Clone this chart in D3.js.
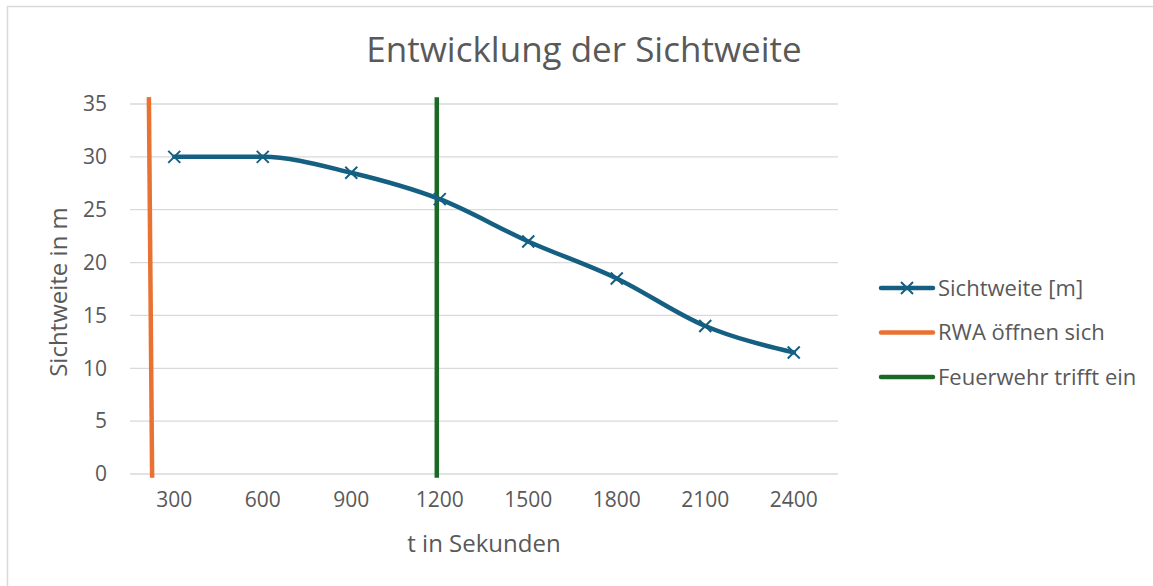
<!DOCTYPE html>
<html>
<head>
<meta charset="utf-8">
<script src="https://cdn.jsdelivr.net/npm/d3@7"></script>
<style>
  html, body { margin: 0; padding: 0; background: #fff; }
  svg { display: block; }
  text { font-family: "Open Sans", "Noto Sans", sans-serif; fill: #595959; }
</style>
</head>
<body>
<svg id="chart" width="1153" height="586"></svg>
<script>
// Sichtweite im Verlauf der Zeit
const categories = [300, 600, 900, 1200, 1500, 1800, 2100, 2400];
const sichtweite = [30, 30, 28.5, 26, 22, 18.5, 14, 11.5];

// Zeitpunkte als senkrechte Linien (t in s, Sichtweite in m)
const rwaT = [225, 214];
const rwaY = [-0.35, 35.65];
const feuerwehrT = [1190, 1190];
const feuerwehrY = [-0.35, 35.65];

const yTicks = [0, 5, 10, 15, 20, 25, 30, 35];

const legendItems = [
  { name: "Sichtweite [m]", color: "#156082", marker: true },
  { name: "RWA öffnen sich", color: "#E97132", marker: false },
  { name: "Feuerwehr trifft ein", color: "#196B24", marker: false }
];

const svg = d3.select("#chart");
const plot = { left: 130, right: 838, top: 104, bottom: 474 };

// Rahmen
svg.append("path")
  .attr("d", `M7.5,${586} V6.5 H1153`)
  .attr("fill", "none").attr("stroke", "#d9d9d9").attr("stroke-width", 1.5);

const x = d3.scaleBand().domain(categories).range([plot.left, plot.right]);
const step = x.bandwidth();
// Lineare Zeitachse, deckungsgleich mit den Kategorien
const xt = d3.scaleLinear()
  .domain([categories[0], categories[categories.length - 1]])
  .range([x(categories[0]) + step / 2, x(categories[categories.length - 1]) + step / 2]);
const y = d3.scaleLinear().domain([0, 35]).range([plot.bottom, plot.top]);

// Gitternetz
svg.append("g")
  .selectAll("line").data(yTicks).join("line")
  .attr("x1", plot.left).attr("x2", plot.right)
  .attr("y1", d => y(d)).attr("y2", d => y(d))
  .attr("stroke", "#d9d9d9").attr("stroke-width", 1.3);

// Y-Achse
const yAxis = svg.append("g")
  .attr("transform", `translate(${plot.left},0)`)
  .call(d3.axisLeft(y).tickValues(yTicks).tickSize(0).tickPadding(23));
yAxis.select(".domain").remove();
yAxis.selectAll("text").style("font-size", "21px").attr("fill", "#595959")
  .attr("font-family", '"Open Sans", sans-serif');

// X-Achse
const xAxis = svg.append("g")
  .attr("transform", `translate(0,${plot.bottom})`)
  .call(d3.axisBottom(x).tickSize(0).tickPadding(18));
xAxis.select(".domain").remove();
xAxis.selectAll("text").style("font-size", "21px").attr("fill", "#595959")
  .attr("font-family", '"Open Sans", sans-serif');

// Titel und Achsentitel
svg.append("text").attr("x", 584).attr("y", 62).attr("text-anchor", "middle")
  .style("font-size", "35px").text("Entwicklung der Sichtweite");
svg.append("text").attr("x", 484).attr("y", 552).attr("text-anchor", "middle")
  .style("font-size", "24px").text("t in Sekunden");
svg.append("text")
  .attr("transform", `translate(67,292) rotate(-90)`)
  .attr("text-anchor", "middle").style("font-size", "24px").text("Sichtweite in m");

// RWA und Feuerwehr
const vline = d3.line().x(d => xt(d[0])).y(d => y(d[1]));
svg.append("path").datum(d3.zip(rwaT, rwaY))
  .attr("d", vline).attr("fill", "none")
  .attr("stroke", "#E97132").attr("stroke-width", 4.5);
svg.append("path").datum(d3.zip(feuerwehrT, feuerwehrY))
  .attr("d", vline).attr("fill", "none")
  .attr("stroke", "#196B24").attr("stroke-width", 4.5);

// Sichtweite
const pts = categories.map((c, i) => [x(c) + step / 2, y(sichtweite[i])]);
svg.append("path").datum(pts)
  .attr("d", d3.line().curve(d3.curveMonotoneX))
  .attr("fill", "none").attr("stroke", "#156082")
  .attr("stroke-width", 4.5).attr("stroke-linejoin", "round").attr("stroke-linecap", "round");

function cross(g, cx, cy, r) {
  g.append("path")
    .attr("d", `M${cx - r},${cy - r}L${cx + r},${cy + r}M${cx - r},${cy + r}L${cx + r},${cy - r}`)
    .attr("stroke", "#156082").attr("stroke-width", 2).attr("fill", "none");
}
const mk = svg.append("g");
pts.forEach(p => cross(mk, p[0], p[1], 6));

// Legende
const lg = svg.append("g");
legendItems.forEach((d, i) => {
  const ly = 288 + i * 44.5;
  lg.append("line").attr("x1", 881).attr("x2", 933).attr("y1", ly).attr("y2", ly)
    .attr("stroke", d.color).attr("stroke-width", 4.5).attr("stroke-linecap", "round");
  if (d.marker) cross(lg, 907, ly, 6);
  lg.append("text").attr("x", 938).attr("y", ly + 7.5)
    .style("font-size", "22px").text(d.name);
});
</script>
</body>
</html>
